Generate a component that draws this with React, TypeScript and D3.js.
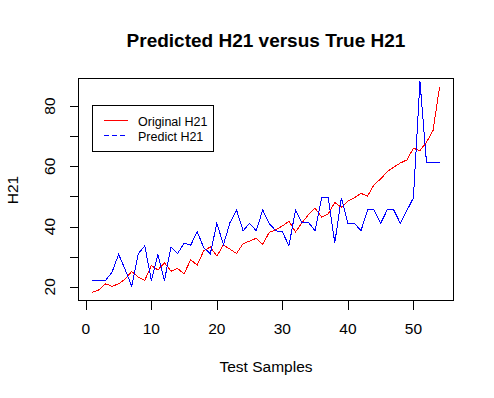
import React, { useEffect, useRef } from "react";
import * as d3 from "d3";

// values (index 1..54)
const original = [
  18.2, 19.0, 21.0, 20.2, 21.0, 22.6, 25.1, 23.2, 22.2, 27.1,
  25.6, 28.0, 25.2, 26.1, 24.3, 29.0, 27.2, 32.0, 33.2, 30.2,
  33.9, 32.5, 31.1, 34.3, 35.2, 36.1, 34.1, 38.1, 38.9, 40.2,
  41.8, 38.2, 41.3, 44.0, 46.1, 43.2, 44.2, 48.0, 46.4, 48.4,
  49.6, 51.0, 50.1, 53.9, 55.8, 58.2, 59.7, 61.1, 62.1, 66.0,
  65.2, 68.0, 71.9, 86.4,
];
const predicted = [
  22.1, 22.1, 22.1, 24.9, 30.8, 25.8, 20.2, 31.0, 33.6, 22.1,
  30.8, 22.1, 33.3, 31.0, 34.5, 33.8, 38.3, 33.0, 31.0, 41.1,
  34.0, 41.3, 45.5, 38.6, 41.1, 38.6, 45.5, 41.0, 38.6, 38.3,
  33.6, 45.5, 41.3, 41.3, 38.6, 49.5, 49.5, 34.6, 49.5, 41.1,
  41.1, 38.6, 45.5, 45.5, 41.1, 45.5, 45.5, 41.1, 45.3, 49.5,
  88.2, 61.2, 61.2, 61.2,
];
const xTicks = [0, 10, 20, 30, 40, 50];
const yTicks = [20, 30, 40, 50, 60, 70, 80];
const yLabels = [20, 40, 60, 80];
const legendItems = ["Original H21", "Predict H21"];

const W = 494, H = 398;
const FONT = "'Liberation Sans', Arial, sans-serif";

export default function App() {
  const ref = useRef<SVGSVGElement>(null);

  useEffect(() => {
    const svg = d3.select(ref.current);
    svg.selectAll("*").remove();

    const left = 78.5, right = 453.5, top = 78.5, bottom = 300.5;

    // R style: 4% padding, ylim from the first plotted series only
    const n = original.length;
    const xPad = (n - 1) * 0.04;
    const x = d3.scaleLinear().domain([1 - xPad, n + xPad]).range([left, right]);
    const [lo, hi] = d3.extent(original) as [number, number];
    const yPad = (hi - lo) * 0.04;
    const y = d3.scaleLinear().domain([lo - yPad, hi + yPad]).range([bottom, top]);

    svg.append("rect").attr("width", W).attr("height", H).attr("fill", "#fff");

    const line = d3.line<number>()
      .x((d, i) => x(i + 1))
      .y(d => y(d));

    svg.append("path")
      .datum(original)
      .attr("d", line)
      .attr("fill", "none")
      .attr("stroke", "#ff0000")
      .attr("stroke-width", 1)
      .attr("shape-rendering", "crispEdges");

    svg.append("path")
      .datum(predicted)
      .attr("d", line)
      .attr("fill", "none")
      .attr("stroke", "#0000ff")
      .attr("stroke-width", 1)
      .attr("shape-rendering", "crispEdges");

    // box
    svg.append("rect")
      .attr("x", left).attr("y", top)
      .attr("width", right - left).attr("height", bottom - top)
      .attr("fill", "none").attr("stroke", "#000")
      .attr("shape-rendering", "crispEdges");

    // x axis
    const gx = svg.append("g").attr("shape-rendering", "crispEdges");
    gx.append("line")
      .attr("x1", x(0)).attr("x2", x(50))
      .attr("y1", bottom).attr("y2", bottom)
      .attr("stroke", "#000");
    gx.selectAll("line.t").data(xTicks).enter().append("line")
      .attr("class", "t")
      .attr("x1", d => Math.round(x(d)) + 0.5).attr("x2", d => Math.round(x(d)) + 0.5)
      .attr("y1", bottom).attr("y2", bottom + 9)
      .attr("stroke", "#000");
    svg.selectAll("text.xt").data(xTicks).enter().append("text")
      .attr("class", "xt")
      .attr("x", d => x(d)).attr("y", 334)
      .attr("text-anchor", "middle")
      .style("font-family", FONT).style("font-size", "15.5px")
      .text(d => d);

    // y axis
    const gy = svg.append("g").attr("shape-rendering", "crispEdges");
    gy.append("line")
      .attr("x1", left).attr("x2", left)
      .attr("y1", y(20)).attr("y2", y(80))
      .attr("stroke", "#000");
    gy.selectAll("line.t").data(yTicks).enter().append("line")
      .attr("class", "t")
      .attr("x1", left - 9).attr("x2", left)
      .attr("y1", d => Math.round(y(d)) + 0.5).attr("y2", d => Math.round(y(d)) + 0.5)
      .attr("stroke", "#000");
    svg.selectAll("text.yt").data(yLabels).enter().append("text")
      .attr("class", "yt")
      .attr("transform", d => "translate(55," + y(d) + ") rotate(-90)")
      .attr("text-anchor", "middle")
      .style("font-family", FONT).style("font-size", "15.5px")
      .text(d => d);

    // titles
    svg.append("text")
      .attr("x", (left + right) / 2).attr("y", 46.5)
      .attr("text-anchor", "middle")
      .style("font-family", FONT).style("font-size", "19px").style("font-weight", "bold")
      .text("Predicted H21 versus True H21");
    svg.append("text")
      .attr("x", (left + right) / 2).attr("y", 372)
      .attr("text-anchor", "middle")
      .style("font-family", FONT).style("font-size", "15.5px")
      .text("Test Samples");
    svg.append("text")
      .attr("transform", "translate(18,190) rotate(-90)")
      .attr("text-anchor", "middle")
      .style("font-family", FONT).style("font-size", "15.5px")
      .text("H21");

    // legend
    const lg = svg.append("g");
    lg.append("rect")
      .attr("x", 92.5).attr("y", 105.5).attr("width", 121).attr("height", 46)
      .attr("fill", "#fff").attr("stroke", "#000")
      .attr("shape-rendering", "crispEdges");
    const colors = ["#ff0000", "#0000ff"];
    const dashes = [null, "5,3"];
    legendItems.forEach((label, i) => {
      const ly = 120.5 + i * 15;
      lg.append("line")
        .attr("x1", 104).attr("x2", 128)
        .attr("y1", ly).attr("y2", ly)
        .attr("stroke", colors[i])
        .attr("stroke-dasharray", dashes[i])
        .attr("shape-rendering", "crispEdges");
      lg.append("text")
        .attr("x", 138).attr("y", ly + 5)
        .style("font-family", FONT).style("font-size", "12.5px")
        .text(label);
    });
  }, []);

  return (
    <svg
      ref={ref}
      width={W}
      height={H}
      style={{ position: "absolute", left: 0, top: 0, display: "block" }}
    />
  );
}
